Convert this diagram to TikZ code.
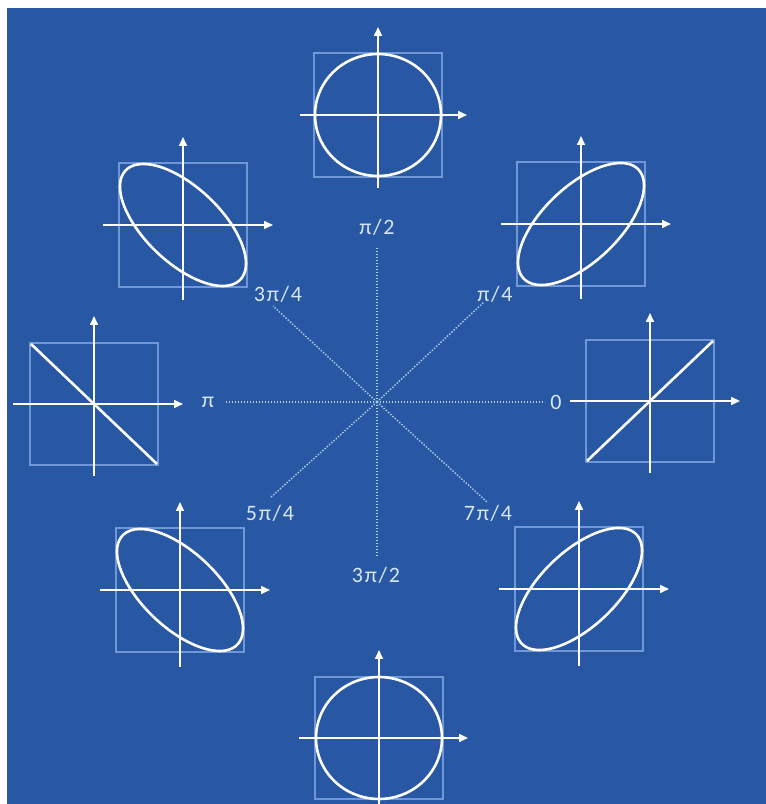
\documentclass[tikz,border=0pt]{standalone}
\usepackage{fontspec}
\setmainfont{Carlito}
\newfontfamily\phasefont[LetterSpace=8]{Carlito}
\usetikzlibrary{arrows.meta}

\definecolor{paper}{RGB}{40,88,164}
\definecolor{frameblue}{RGB}{112,152,216}
\definecolor{guideblue}{RGB}{178,206,242}
\definecolor{labelblue}{RGB}{215,230,250}

\tikzstyle{frame} = [draw=frameblue, line width=1.2pt]
\tikzstyle{axis} = [draw=white, line width=1.6pt, -{Triangle[length=9pt, width=8pt]}]
\tikzstyle{trace} = [draw=white, line width=2.6pt]
\tikzstyle{guide} = [draw=guideblue, line width=1.4pt, dash pattern=on 1.4pt off 1.6pt]
\tikzstyle{phase} = [text=labelblue, font=\phasefont\fontsize{22}{26}\selectfont, inner sep=0pt]

\begin{document}
\begin{tikzpicture}[x=1pt, y=1pt]
\useasboundingbox (0,0) rectangle (766,804);
\fill[white] (0,0) rectangle (766,804);
\fill[paper] (7,0) rectangle (766,796);

\coordinate (o) at (377,402);
\coordinate (e0) at (545,402);
\coordinate (e45) at (484,502);
\coordinate (e90) at (377,556);
\coordinate (e135) at (273,498);
\coordinate (e180) at (225,402);
\coordinate (e225) at (270,306);
\coordinate (e270) at (377,246);
\coordinate (e315) at (487,302);

\node[phase] (l0) at (556,402) {0};
\node[phase] (l45) at (495,510) {π/4};
\node[phase] (l90) at (377,577) {π/2};
\node[phase] (l135) at (278,510) {3π/4};
\node[phase] (l180) at (208,402) {π};
\node[phase] (l225) at (270,291) {5π/4};
\node[phase] (l270) at (376,229) {3π/2};
\node[phase] (l315) at (488,291) {7π/4};

\draw[guide] (o) -- (e0);
\draw[guide] (o) -- (e45);
\draw[guide] (o) -- (e90);
\draw[guide] (o) -- (e135);
\draw[guide] (o) -- (e180);
\draw[guide] (o) -- (e225);
\draw[guide] (o) -- (e270);
\draw[guide] (o) -- (e315);

\begin{scope}[shift={(650,403)}]
  \draw[frame] (-64,-61) rectangle (64,61);
  \draw[axis] (-80,0) -- (90,0);
  \draw[axis] (0,-72) -- (0,88);
  \draw[trace] (-63,-60) -- (63,60);
\end{scope}

\begin{scope}[shift={(581,580)}]
  \draw[frame] (-64,-62) rectangle (64,62);
  \draw[axis] (-80,0) -- (90,0);
  \draw[axis] (0,-75) -- (0,88);
  \draw[trace] plot[domain=0:357, samples=120, smooth cycle] ({63*sin(\x)}, {61*sin(\x+51)});
\end{scope}

\begin{scope}[shift={(378,689)}]
  \draw[frame] (-64,-62) rectangle (64,62);
  \draw[axis] (-78,0) -- (89,0);
  \draw[axis] (0,-73) -- (0,88);
  \draw[trace] plot[domain=0:357, samples=120, smooth cycle] ({63*sin(\x)}, {61*sin(\x+90)});
\end{scope}

\begin{scope}[shift={(183,579)}]
  \draw[frame] (-64,-62) rectangle (64,62);
  \draw[axis] (-80,0) -- (90,0);
  \draw[axis] (0,-75) -- (0,88);
  \draw[trace] plot[domain=0:357, samples=120, smooth cycle] ({63*sin(\x)}, {61*sin(\x+129)});
\end{scope}

\begin{scope}[shift={(94,400)}]
  \draw[frame] (-64,-61) rectangle (64,61);
  \draw[axis] (-81,0) -- (89,0);
  \draw[axis] (0,-72) -- (0,88);
  \draw[trace] (-63,60) -- (63,-60);
\end{scope}

\begin{scope}[shift={(180,214)}]
  \draw[frame] (-64,-62) rectangle (64,62);
  \draw[axis] (-80,0) -- (90,0);
  \draw[axis] (0,-77) -- (0,88);
  \draw[trace] plot[domain=0:357, samples=120, smooth cycle] ({63*sin(\x)}, {61*sin(\x+231)});
\end{scope}

\begin{scope}[shift={(379,66)}]
  \draw[frame] (-64,-61) rectangle (64,61);
  \draw[axis] (-80,0) -- (89,0);
  \draw[axis] (0,-75) -- (0,88);
  \draw[trace] plot[domain=0:357, samples=120, smooth cycle] ({63*sin(\x)}, {61*sin(\x+270)});
\end{scope}

\begin{scope}[shift={(579,215)}]
  \draw[frame] (-64,-62) rectangle (64,62);
  \draw[axis] (-80,0) -- (90,0);
  \draw[axis] (0,-77) -- (0,88);
  \draw[trace] plot[domain=0:357, samples=120, smooth cycle] ({63*sin(\x)}, {61*sin(\x+309)});
\end{scope}
\end{tikzpicture}
\end{document}
